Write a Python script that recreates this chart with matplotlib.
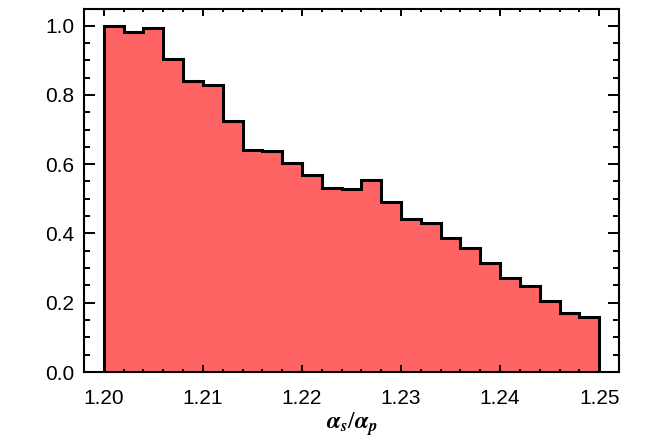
import matplotlib
matplotlib.use("Agg")
import matplotlib.pyplot as plt
import numpy as np

# Histogram bin edges (25 bins, width 0.002)
bin_start = 1.20
bin_width = 0.002
n_bins = 25
values = [1.000, 0.981, 0.994, 0.904, 0.840, 0.829, 0.724, 0.641, 0.638, 0.602,
          0.570, 0.532, 0.527, 0.555, 0.491, 0.442, 0.429, 0.387, 0.357, 0.314,
          0.270, 0.249, 0.204, 0.171, 0.158]
xticks = [1.20, 1.21, 1.22, 1.23, 1.24, 1.25]
xticklabels = ["1.20", "1.21", "1.22", "1.23", "1.24", "1.25"]
yticks = [0.0, 0.2, 0.4, 0.6, 0.8, 1.0]
yticklabels = ["0.0", "0.2", "0.4", "0.6", "0.8", "1.0"]

edges = bin_start + bin_width * np.arange(n_bins + 1)

plt.rcParams['font.family'] = ['Liberation Sans', 'DejaVu Sans']
plt.rcParams['mathtext.fontset'] = 'stix'

fig = plt.figure(figsize=(6.68, 4.45), dpi=100)
ax = fig.add_axes([84/668, 1 - 372/445, (619-84)/668, (372-9)/445])

ax.stairs(values, edges, fill=True, color='#FF6464', linewidth=0)
ax.stairs(values, edges, color='black', linewidth=2.2, baseline=0)

ax.set_xlim(1.198, 1.252)
ax.set_ylim(0, 1.048)
ax.set_xticks(xticks)
ax.set_xticklabels(xticklabels)
ax.set_yticks(yticks)
ax.set_yticklabels(yticklabels)
ax.set_xticks(np.arange(1.198, 1.2521, 0.002), minor=True)
ax.set_yticks(np.arange(0, 1.05, 0.05), minor=True)

for s in ax.spines.values():
    s.set_linewidth(1.5)

ax.tick_params(axis='both', which='both', direction='in', top=True, right=True,
               width=1.4, labelsize=15, colors='black')
ax.tick_params(axis='x', which='major', length=5, pad=12)
ax.tick_params(axis='x', which='minor', length=2.5)
ax.tick_params(axis='y', which='major', length=7.7, pad=7)
ax.tick_params(axis='y', which='minor', length=4.1)

ax.set_xlabel(r'$\mathbfit{\alpha}_{\mathbfit{s}}/\mathbfit{\alpha}_{\mathbfit{p}}$',
              fontsize=17, labelpad=2)

fig.savefig("out.png", dpi=100)
